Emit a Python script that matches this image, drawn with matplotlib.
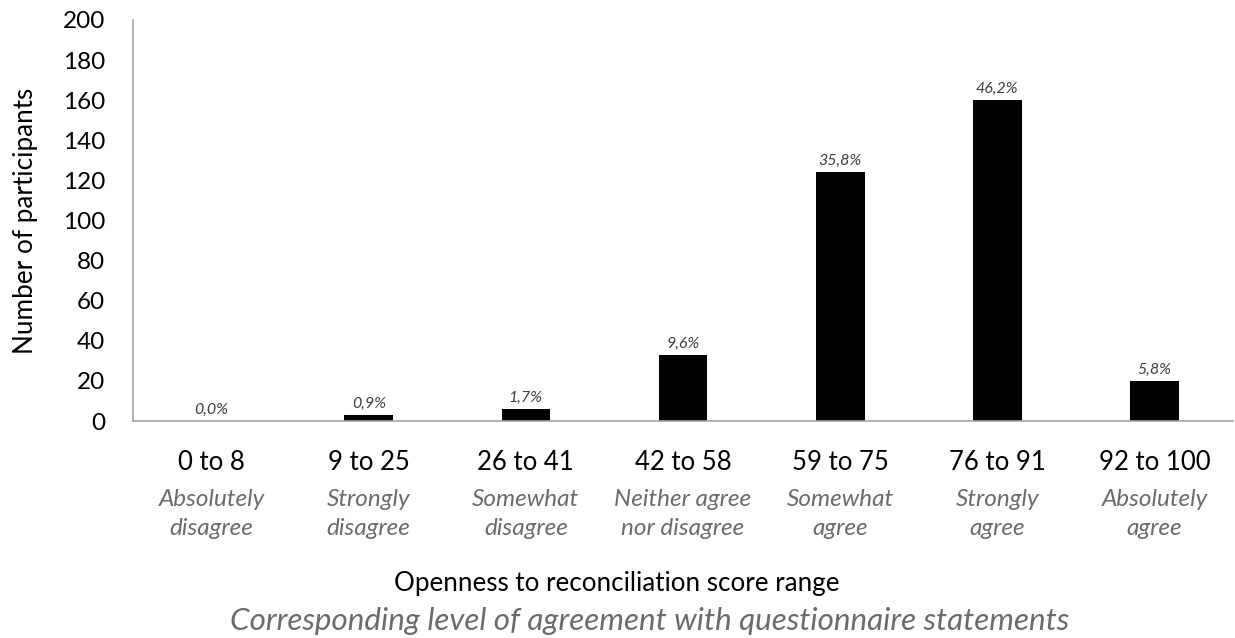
import numpy as np
import matplotlib as mpl
import matplotlib.pyplot as plt

### Data ##############################
ranges = ["0 to 8", "9 to 25", "26 to 41", "42 to 58", "59 to 75", "76 to 91", "92 to 100"]
levels = ["Absolutely\ndisagree", "Strongly\ndisagree", "Somewhat\ndisagree",
          "Neither agree\nnor disagree", "Somewhat\nagree", "Strongly\nagree", "Absolutely\nagree"]
counts = [0, 3, 6, 33, 124, 160, 20]
pct_labels = ["0,0%", "0,9%", "1,7%", "9,6%", "35,8%", "46,2%", "5,8%"]
yticks = list(range(0, 201, 20))
#######################################

mpl.rc('font', family=['Lato', 'DejaVu Sans'])

fig = plt.figure(figsize=(12.35, 6.38), dpi=100)
ax = fig.add_axes([133/1235, 1-421/638, 1100/1235, 401/638])

x = np.arange(len(ranges))
ax.bar(x, counts, width=0.31, color='black')

for xi, c, p in zip(x, counts, pct_labels):
    ax.annotate(p, (xi, c), xytext=(0, 3), textcoords='offset points',
                ha='center', va='bottom', fontsize=11.5, style='italic', color='#404040')

ax.set_xlim(-0.5, len(ranges)-0.5)
ax.set_ylim(0, 200)
ax.set_yticks(yticks)
ax.tick_params(axis='y', length=0, labelsize=17.5, pad=20)
ax.tick_params(axis='x', length=0, labelsize=18.5, pad=21)
ax.set_xticks(x)
ax.set_xticklabels(ranges)

for xi, lv in zip(x, levels):
    ax.annotate(lv, (xi, 0), xycoords=('data', 'axes fraction'),
                xytext=(0, -49), textcoords='offset points',
                ha='center', va='top', fontsize=17.5, style='italic',
                color='#6b6b6b', linespacing=1.45)

for s in ['top', 'right']:
    ax.spines[s].set_visible(False)
for s in ['left', 'bottom']:
    ax.spines[s].set_color('#a6a6a6')
    ax.spines[s].set_linewidth(1.2)

ax.set_ylabel('Number of participants', fontsize=18.8, labelpad=14)
ax.yaxis.set_label_coords(-95/1100, 0.5)

fig.text(617/1235, 1-583/638, 'Openness to reconciliation score range',
         ha='center', va='center', fontsize=18.7)
fig.text(650/1235, 1-621/638,
         'Corresponding level of agreement with questionnaire statements',
         ha='center', va='center', fontsize=22.6, style='italic', color='#6b6b6b')

plt.savefig('out.png', dpi=100)
